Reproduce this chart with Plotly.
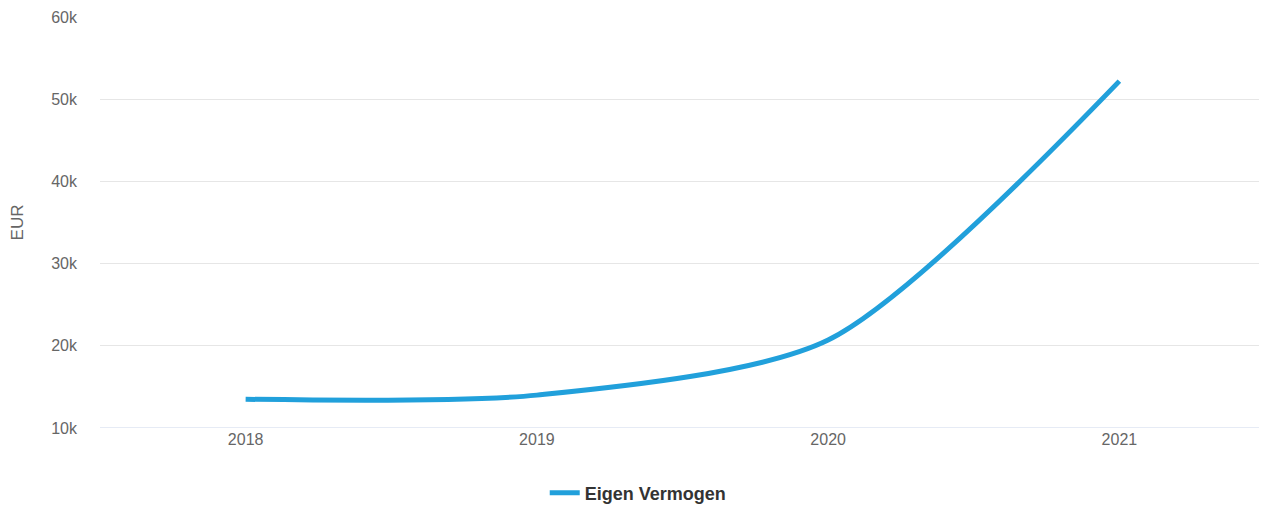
import plotly.graph_objects as go

years = ["2018", "2019", "2020", "2021"]
eigen_vermogen = [13500, 14000, 20700, 52200]
y_ticks = [10000, 20000, 30000, 40000, 50000, 60000]
y_tick_labels = ["10k", "20k", "30k", "40k", "50k", "60k"]

fig = go.Figure()
fig.add_trace(go.Scatter(
    x=years, y=eigen_vermogen, mode="lines", name="Eigen Vermogen",
    line=dict(color="#21a0db", width=5, shape="spline", smoothing=0.75),
))

# The page body has an 8px margin; compensate so the plot lands where the reference has it.
fig.update_layout(
    width=1259, height=505,
    margin=dict(l=92, r=2, t=9, b=85),
    paper_bgcolor="white", plot_bgcolor="white",
    font=dict(family="Liberation Sans, Arial, sans-serif", color="#666666", size=16),
    showlegend=True,
    legend=dict(orientation="h", x=0.462, xanchor="center", y=-0.203, yanchor="bottom",
                font=dict(size=18, color="#333333", family="Liberation Sans, Arial, sans-serif",
                          weight="bold"),
                itemwidth=30),
    xaxis=dict(type="category", range=[-0.5, 3.5], showgrid=False, showline=False,
               ticks="", tickfont=dict(size=16, color="#666666"), zeroline=False),
    yaxis=dict(range=[10000, 60000], tickvals=y_ticks, ticktext=y_tick_labels,
               showgrid=True, gridcolor="#e6e6e6", gridwidth=1, zeroline=False,
               showline=False, ticks="", ticklabelstandoff=22,
               tickfont=dict(size=16, color="#666666"),
               title=dict(text="EUR", font=dict(size=17, color="#666666"), standoff=23)),
)
fig.add_shape(type="line", xref="paper", yref="y", x0=0, x1=1, y0=10000, y1=10000,
              line=dict(color="#ccd6eb", width=1), layer="below")

fig.write_html("out.html")
